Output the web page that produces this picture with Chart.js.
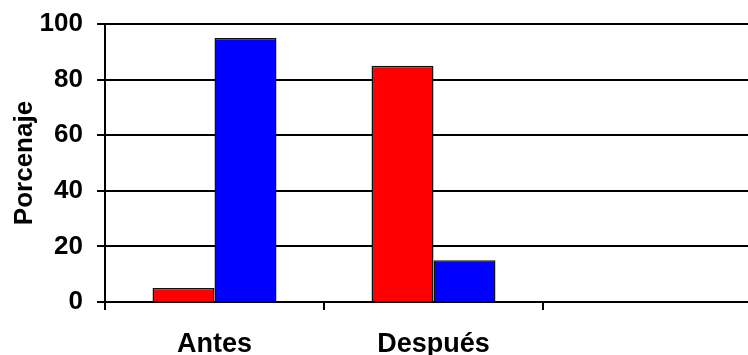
<!DOCTYPE html>
<html>
<head>
<meta charset="utf-8">
<script src="https://cdn.jsdelivr.net/npm/chart.js@4/dist/chart.umd.min.js"></script>
<style>
  html, body { margin: 0; padding: 0; background: #fff; overflow: hidden; }
  #wrap { width: 748px; height: 355px; overflow: hidden; position: relative; }
  #c { position: absolute; left: 0; top: 0; }
</style>
</head>
<body>
<div id="wrap"><canvas id="c" width="762" height="355"></canvas></div>
<script>
// Categories along the x axis (third slot is left empty)
const categories = ['Antes', 'Después', ''];
// Percentages for the two series
const redValues = [5, 85, null];
const blueValues = [95, 15, null];
// Y axis range and step
const yMin = 0, yMax = 100, yStep = 20;
const yTitle = 'Porcenaje';

const FONT = '"Liberation Sans", Arial, sans-serif';

new Chart(document.getElementById('c'), {
  type: 'bar',
  data: {
    labels: categories,
    datasets: [
      { data: redValues, backgroundColor: '#FF0000', borderColor: '#111', borderWidth: 1.5 },
      { data: blueValues, backgroundColor: '#0000FF', borderColor: '#111', borderWidth: 1.5 }
    ]
  },
  options: {
    responsive: false,
    animation: false,
    devicePixelRatio: 1,
    categoryPercentage: 0.566,
    barPercentage: 1.0,
    layout: { padding: { top: 24, right: 0, bottom: 0, left: 0 } },
    plugins: { legend: { display: false }, tooltip: { enabled: false } },
    scales: {
      x: {
        afterFit: (s) => { s.height = 53; s.paddingLeft = 0; s.paddingRight = 0; },
        grid: { display: true, drawOnChartArea: false, drawTicks: true, tickLength: 8, color: '#000', lineWidth: 2, offset: true },
        border: { display: true, color: '#000', width: 2 },
        ticks: { color: '#000', font: { family: FONT, size: 27, weight: 'bold' }, padding: 18 }
      },
      y: {
        min: yMin, max: yMax,
        afterFit: (s) => { s.width = 105; s.paddingTop = 0; s.paddingBottom = 0; },
        grid: { color: '#000', lineWidth: 2, tickLength: 8 },
        border: { display: true, color: '#000', width: 2 },
        ticks: { stepSize: yStep, color: '#000', font: { family: FONT, size: 26, weight: 'bold' }, padding: 14 },
        title: { display: true, text: yTitle, color: '#000', font: { family: FONT, size: 26, weight: 'bold' }, padding: { top: 9, bottom: 0 } }
      }
    }
  }
});
</script>
</body>
</html>
